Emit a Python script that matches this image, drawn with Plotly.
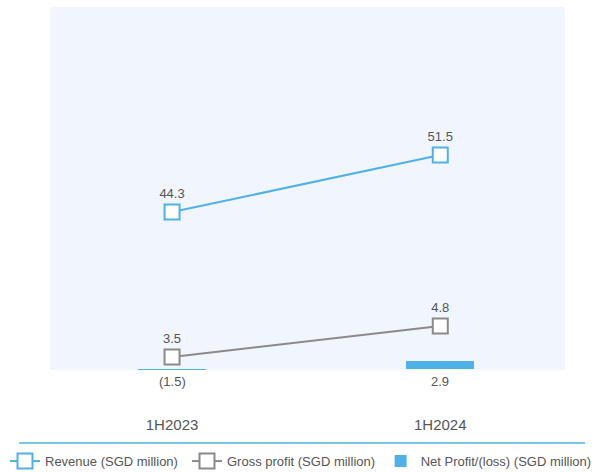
import plotly.graph_objects as go

# Half-year periods and reported figures (SGD million)
periods = ["1H2023", "1H2024"]
revenue = [44.3, 51.5]
gross_profit = [3.5, 4.8]
net_profit = [-1.5, 2.9]

BLUE = "#4fb2e7"
GREY = "#8a8a8a"
TEXT = "#555555"
FONT = "Liberation Sans, Arial, sans-serif"


def fmt(v):
    return f"({abs(v):.1f})" if v < 0 else f"{v:.1f}"


fig = go.Figure()

# Net profit bars on their own hidden axis
fig.add_trace(go.Bar(
    x=periods, y=net_profit, yaxis="y3", width=0.254,
    marker=dict(color=BLUE, line=dict(width=0)),
    name="Net Profit/(loss) (SGD million)", legend="legend3",
))

# Revenue line
fig.add_trace(go.Scatter(
    x=periods, y=revenue, yaxis="y", mode="lines+markers+text",
    text=[fmt(v) for v in revenue], textposition="top center",
    textfont=dict(size=13, color=TEXT, family=FONT),
    line=dict(color=BLUE, width=2),
    marker=dict(symbol="square", size=15, color="white",
                line=dict(color=BLUE, width=2)),
    name="Revenue (SGD million)", cliponaxis=False, legend="legend",
))

# Gross profit line
fig.add_trace(go.Scatter(
    x=periods, y=gross_profit, yaxis="y2", mode="lines+markers+text",
    text=[fmt(v) for v in gross_profit], textposition="top center",
    textfont=dict(size=13, color=TEXT, family=FONT),
    line=dict(color=GREY, width=2),
    marker=dict(symbol="square", size=15, color="white",
                line=dict(color=GREY, width=2)),
    name="Gross profit (SGD million)", cliponaxis=False, legend="legend2",
))

# Net profit values shown beneath the axis
for p, v in zip(periods, net_profit):
    fig.add_annotation(
        x=p, xref="x", y=-0.033, yref="paper", yanchor="middle",
        text=fmt(v), showarrow=False,
        font=dict(size=13, color=TEXT, family=FONT),
    )

# Divider above the legend
fig.add_shape(type="line", xref="paper", yref="paper",
              x0=-0.060, x1=1.039, y0=-0.201, y1=-0.201,
              line=dict(color=BLUE, width=1.5))

legend_style = dict(
    orientation="h", xanchor="left", y=-0.251, yanchor="middle",
    font=dict(size=13, color=TEXT, family=FONT),
    itemclick=False, bgcolor="rgba(0,0,0,0)",
)

fig.update_layout(
    width=596, height=473, autosize=False,
    margin=dict(l=50, r=31, t=7, b=103, autoexpand=False),
    paper_bgcolor="white", plot_bgcolor="#f1f5fd",
    font=dict(family=FONT, color=TEXT, size=13),
    bargap=0,
    xaxis=dict(
        type="category", range=[-0.455, 1.465],
        showgrid=False, zeroline=False, showline=False,
        ticks="outside", ticklen=41, tickcolor="rgba(0,0,0,0)",
        tickfont=dict(size=15, color=TEXT, family=FONT),
    ),
    yaxis=dict(range=[24.35, 70.2], visible=False),
    yaxis2=dict(range=[2.955, 18.17], overlaying="y", visible=False),
    yaxis3=dict(range=[-0.4, 131], overlaying="y", visible=False),
    legend=dict(x=-0.0874, **legend_style),
    legend2=dict(x=0.266, **legend_style),
    legend3=dict(x=0.642, **legend_style),
    showlegend=True,
)

fig.write_html("out.html")
